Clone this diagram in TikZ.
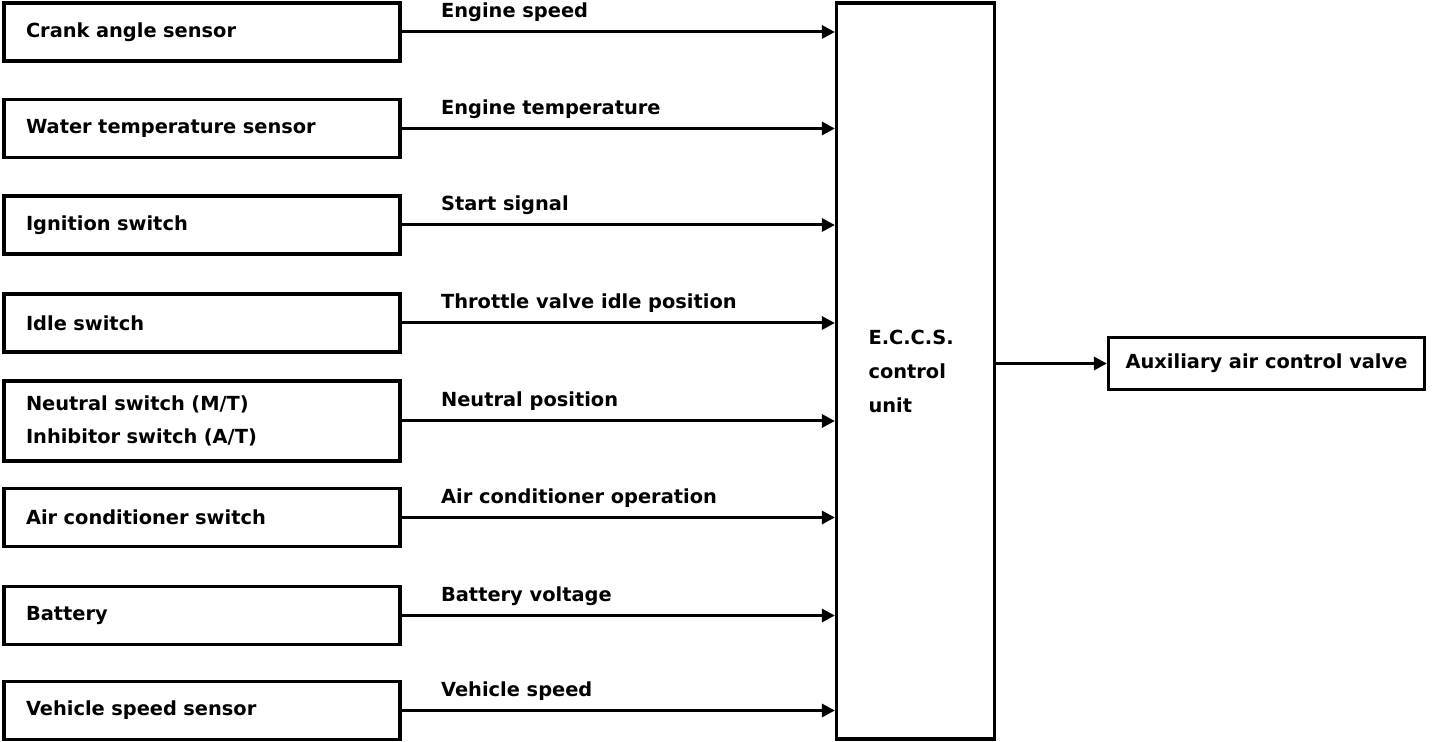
\documentclass[tikz,border=0pt]{standalone}
\usepackage{fontspec}
\setmainfont{DejaVu Sans}
\usepackage{tikz}
\usetikzlibrary{arrows.meta,positioning,calc}

\begin{document}
\begin{tikzpicture}[x=.5pt,y=-.5pt,
  font=\fontsize{9.7}{16.5}\selectfont\bfseries,
  source/.style={draw,line width=1.6pt,minimum width=198pt,minimum height=29pt,
    text width=176pt,align=left,inner xsep=11pt,inner ysep=0pt},
  ecu/.style={draw,line width=1.6pt,minimum width=79pt,minimum height=368pt,
    text width=47pt,align=left,inner xsep=16pt,font=\fontsize{9.7}{17}\selectfont\bfseries},
  target/.style={draw,line width=1.6pt,minimum width=158pt,minimum height=26pt,inner xsep=6pt},
  sig/.style={anchor=base west,inner sep=0pt,pos=0,xshift=19pt,yshift=7pt},
  flow/.style={-{Triangle[length=6.5pt,width=6.5pt]},line width=1.5pt}]

\useasboundingbox (0,0) rectangle (1440,742);

% input sensors and switches
\node[source] (crank) at (202,32) {Crank angle sensor};
\node[source] (water) at (202,128.5) {Water temperature sensor};
\node[source] (ignition) at (202,225) {Ignition switch};
\node[source] (idle) at (202,323) {Idle switch};
\node[source,minimum height=40pt] (neutral) at (202,421) {Neutral switch (M/T)\\Inhibitor switch (A/T)};
\node[source] (aircon) at (202,517.5) {Air conditioner switch};
\node[source] (battery) at (202,615.5) {Battery};
\node[source] (vspeed) at (202,710.5) {Vehicle speed sensor};

% control unit and actuator
\node[ecu] (ecu) at (915.5,371) {E.C.C.S.\\control\\unit};
\node[target] (valve) at (1266.5,363.5) {Auxiliary air control valve};

% signals
\draw[flow] (crank.east) -- node[sig] {Engine speed} (crank.east -| ecu.west);
\draw[flow] (water.east) -- node[sig] {Engine temperature} (water.east -| ecu.west);
\draw[flow] (ignition.east) -- node[sig] {Start signal} (ignition.east -| ecu.west);
\draw[flow] (idle.east) -- node[sig] {Throttle valve idle position} (idle.east -| ecu.west);
\draw[flow] (neutral.east) -- node[sig] {Neutral position} (neutral.east -| ecu.west);
\draw[flow] (aircon.east) -- node[sig] {Air conditioner operation} (aircon.east -| ecu.west);
\draw[flow] (battery.east) -- node[sig] {Battery voltage} (battery.east -| ecu.west);
\draw[flow] (vspeed.east) -- node[sig] {Vehicle speed} (vspeed.east -| ecu.west);
\draw[flow] (ecu.east |- valve.west) -- (valve.west);

\end{tikzpicture}
\end{document}
